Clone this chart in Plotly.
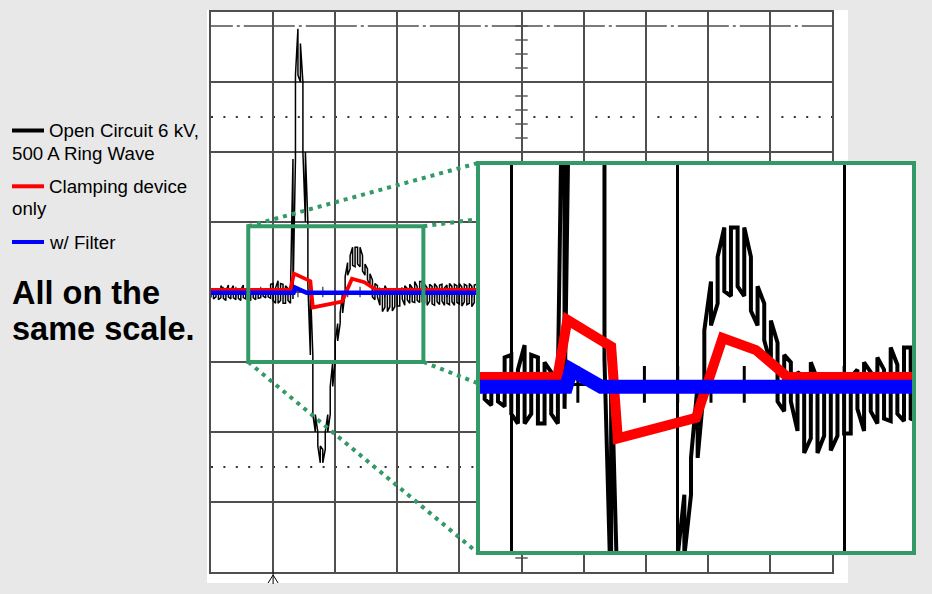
import plotly.graph_objects as go

PAGE_W, PAGE_H = 932, 594

# ---------------------------------------------------------------
# Scope traces, in screen divisions (10 x 8 graticule, centre = 0,0)
# ---------------------------------------------------------------

# Open-circuit 6 kV / 500 A ring wave: min / max of each display column
ring_t = [
    0.00, 0.04, 0.08, 0.12, 0.16, 0.20, 0.24, 0.28, 0.32, 0.36,
    0.40, 0.44, 0.48, 0.52, 0.56, 0.60, 0.64, 0.68, 0.72, 0.76,
    0.80, 0.84, 0.88, 0.92, 0.96, 1.00, 1.04, 1.08, 1.12, 1.16,
    1.20, 1.24, 1.28, 1.32, 1.36, 1.40, 1.44, 1.48, 1.52, 1.56,
    1.60, 1.64, 1.68, 1.72, 1.76, 1.80, 1.84, 1.88, 1.92, 1.96,
    2.00, 2.04, 2.08, 2.12, 2.16, 2.20, 2.24, 2.28, 2.32, 2.36,
    2.40, 2.44, 2.48, 2.52, 2.56, 2.60, 2.64, 2.68, 2.72, 2.76,
    2.80, 2.84, 2.88, 2.92, 2.96, 3.00, 3.04, 3.08, 3.12, 3.16,
    3.20, 3.24, 3.28, 3.32, 3.36, 3.40, 3.44, 3.48, 3.52, 3.56,
    3.60, 3.64, 3.68, 3.72, 3.76, 3.80, 3.84, 3.88, 3.92, 3.96,
    4.00, 4.04, 4.08, 4.12, 4.16, 4.20, 4.24, 4.28,
]
ring_lo = [
    -0.08, -0.10, -0.07, -0.11, -0.08, -0.09, -0.12, -0.07, -0.10, -0.08,
    -0.11, -0.09, -0.12, -0.08, -0.10, -0.09, -0.12, -0.08, -0.11, -0.09,
    -0.08, -0.06, -0.085, -0.07, -0.09, -0.12, -0.16, -0.16, -0.12, -0.16,
    -0.16, -0.12, -0.16, -0.10, 1.90, 3.10, 3.00, 2.00, 1.00, 0.10,
    -0.90, -1.75, -2.00, -2.20, -2.44, -2.44, -2.25, -2.00, -1.75, -1.35,
    -1.00, -0.70, -0.45, -0.30, 0.00, 0.24, 0.33, 0.38, 0.36, 0.40,
    0.36, 0.30, 0.24, 0.18, 0.08, -0.07, -0.11, -0.07, -0.19, -0.28,
    -0.22, -0.28, -0.21, -0.27, -0.21, -0.20, -0.20, -0.10, -0.19, -0.11,
    -0.16, -0.14, -0.15, -0.12, -0.15, -0.14, -0.15, -0.19, -0.13, -0.17,
    -0.19, -0.14, -0.18, -0.13, -0.19, -0.16, -0.18, -0.14, -0.19, -0.15,
    -0.17, -0.20, -0.14, -0.18, -0.16, -0.21, -0.15, -0.18,
]
ring_hi = [
    0.02, 0.03, 0.02, 0.04, 0.09, 0.03, 0.02, 0.10, 0.03, 0.09,
    0.02, 0.04, 0.03, 0.10, 0.02, 0.03, 0.02, 0.05, 0.03, 0.02,
    0.03, 0.02, 0.03, 0.02, 0.11, 0.12, 0.06, 0.16, 0.12, 0.11,
    0.09, 0.05, 0.03, 1.90, 3.10, 3.76, 3.55, 3.00, 2.00, 1.00,
    0.10, -0.90, -1.75, -2.00, -2.20, -2.25, -2.00, -1.75, -1.35, -1.00,
    -0.70, -0.45, -0.30, 0.00, 0.22, 0.42, 0.52, 0.64, 0.64, 0.64,
    0.64, 0.52, 0.40, 0.33, 0.26, 0.17, 0.12, 0.09, 0.05, 0.03,
    0.09, 0.02, 0.03, 0.02, 0.03, 0.02, 0.03, 0.06, 0.09, 0.05,
    0.11, 0.06, 0.15, 0.08, 0.15, 0.15, 0.11, 0.06, 0.11, 0.08,
    0.12, 0.07, 0.10, 0.11, 0.06, 0.10, 0.12, 0.08, 0.11, 0.09,
    0.12, 0.07, 0.11, 0.09, 0.12, 0.08, 0.10, 0.11,
]

# Clamping device only
clamp_t = [0.00, 1.277, 1.337, 1.60, 1.64, 2.11, 2.27, 2.47, 2.66, 4.30]
clamp_v = [0.03, 0.03, 0.263, 0.155, -0.22, -0.137, 0.189, 0.14, 0.03, 0.03]

# With filter
filt_t = [0.00, 1.33, 1.36, 1.54, 4.30]
filt_v = [-0.01, -0.01, 0.06, -0.01, -0.01]

legend_rows = [
    ("Open Circuit 6 kV,", "500 A Ring Wave", "#000000"),
    ("Clamping device", "only", "#ff0000"),
    ("w/ Filter", None, "#0000ff"),
]
note_lines = ["All on the", "same scale."]

# ---------------------------------------------------------------
# Styling / geometry
# ---------------------------------------------------------------
GRID = "#4f4f4f"
GREEN = "#339966"
FONT = "Liberation Sans, Arial, sans-serif"

MAIN_X = [0, 10]
MAIN_Y = [-4, 4]
MAIN_DOM_X = [211 / PAGE_W, 832 / PAGE_W]
MAIN_DOM_Y = [1 - 572 / PAGE_H, 1 - 12 / PAGE_H]

ZOOM_X = [0.80, 3.42]
ZOOM_Y = [-0.688, 0.903]
ZOOM_DOM_X = [478 / PAGE_W, 914 / PAGE_W]
ZOOM_DOM_Y = [1 - 553 / PAGE_H, 1 - 163 / PAGE_H]

# region of the main screen marked as magnified
MARK_X = [0.60, 3.42]
MARK_Y = [-1.00, 0.94]


def main_to_paper(x, y):
    px = MAIN_DOM_X[0] + (x - MAIN_X[0]) / (MAIN_X[1] - MAIN_X[0]) * (MAIN_DOM_X[1] - MAIN_DOM_X[0])
    py = MAIN_DOM_Y[0] + (y - MAIN_Y[0]) / (MAIN_Y[1] - MAIN_Y[0]) * (MAIN_DOM_Y[1] - MAIN_DOM_Y[0])
    return px, py


# peak-detect style path: each column drawn as a vertical stroke, snaking
ring_x, ring_y = [], []
for i, (t, lo, hi) in enumerate(zip(ring_t, ring_lo, ring_hi)):
    ring_x += [t, t]
    ring_y += [lo, hi] if i % 2 == 0 else [hi, lo]

# minor graticule ticks on the centre cross (5 per division)
tick_x, tick_y = [], []
for k in range(1, 50):
    t = k * 0.2
    tick_x += [t, t, None]
    tick_y += [-0.075, 0.075, None]
for k in range(-19, 20):
    v = k * 0.2
    tick_x += [4.9, 5.1, None]
    tick_y += [v, v, None]

fig = go.Figure()

# stroke widths for the full screen and for the magnified view
STROKES = {
    "main": dict(tick=(GRID, 1.4), ring=1.5, clamp=3.8, filt=4.5),
    "zoom": dict(tick=("#000000", 3), ring=4, clamp=10, filt=14),
}


def add_screen(xa, ya, style):
    s = STROKES[style]
    fig.add_trace(go.Scatter(x=tick_x, y=tick_y, mode="lines", xaxis=xa, yaxis=ya,
                             line=dict(color=s["tick"][0], width=s["tick"][1]), hoverinfo="skip"))
    fig.add_trace(go.Scatter(x=ring_x, y=ring_y, mode="lines", xaxis=xa, yaxis=ya,
                             name="Open Circuit 6 kV, 500 A Ring Wave",
                             line=dict(color="#000000", width=s["ring"])))
    fig.add_trace(go.Scatter(x=clamp_t, y=clamp_v, mode="lines", xaxis=xa, yaxis=ya,
                             name="Clamping device only",
                             line=dict(color="#ff0000", width=s["clamp"])))
    fig.add_trace(go.Scatter(x=filt_t, y=filt_v, mode="lines", xaxis=xa, yaxis=ya,
                             name="w/ Filter",
                             line=dict(color="#0000ff", width=s["filt"])))


add_screen("x", "y", "main")
add_screen("x2", "y2", "zoom")

axis_common = dict(showticklabels=False, ticks="", zeroline=False, fixedrange=True, showgrid=True)
fig.update_layout(
    width=PAGE_W, height=PAGE_H,
    margin=dict(l=0, r=0, t=0, b=0),
    paper_bgcolor="#e8e8e8", plot_bgcolor="#ffffff",
    showlegend=False,
    xaxis=dict(domain=MAIN_DOM_X, range=MAIN_X, dtick=1, tick0=0, gridcolor=GRID, gridwidth=1.6,
               showline=True, mirror=True, linecolor=GRID, linewidth=2, anchor="y", **axis_common),
    yaxis=dict(domain=MAIN_DOM_Y, range=MAIN_Y, dtick=1, tick0=0, gridcolor=GRID, gridwidth=1.6,
               showline=True, mirror=True, linecolor=GRID, linewidth=2, anchor="x", **axis_common),
    xaxis2=dict(domain=ZOOM_DOM_X, range=ZOOM_X, dtick=1, tick0=0, gridcolor="#000000", gridwidth=3,
                showline=False, anchor="y2", **axis_common),
    yaxis2=dict(domain=ZOOM_DOM_Y, range=ZOOM_Y, dtick=1, tick0=0, gridcolor="#000000", gridwidth=3,
                showline=False, anchor="x2", **axis_common),
)

shapes = []
# white card behind the scope screen
shapes.append(dict(type="rect", xref="paper", yref="paper", layer="below",
                   x0=207 / PAGE_W, x1=848 / PAGE_W, y0=1 - 583 / PAGE_H, y1=1 - 10 / PAGE_H,
                   line=dict(width=0), fillcolor="#ffffff"))
# dash-dot reference level and dotted 2.5-div levels
shapes.append(dict(type="line", xref="x", yref="y", layer="below", x0=-0.47, x1=10, y0=3.8, y1=3.8,
                   line=dict(color=GRID, width=1.5, dash="51px,4px,3px,4px")))
for lvl in (2.5, -2.5):
    shapes.append(dict(type="line", xref="x", yref="y", layer="below", x0=0, x1=10, y0=lvl, y1=lvl,
                       line=dict(color="#333333", width=2, dash="2px,10.4px")))
# magnified region marker
shapes.append(dict(type="rect", xref="x", yref="y", layer="above",
                   x0=MARK_X[0], x1=MARK_X[1], y0=MARK_Y[0], y1=MARK_Y[1],
                   line=dict(color=GREEN, width=4)))
# connectors from marker corners to the magnified view corners
zx0, zx1 = ZOOM_DOM_X
zy0, zy1 = ZOOM_DOM_Y
pairs = [
    ((MARK_X[0], MARK_Y[1]), (zx0, zy1)),
    ((MARK_X[1], MARK_Y[1]), (zx1, zy1)),
    ((MARK_X[0], MARK_Y[0]), (zx0, zy0)),
    ((MARK_X[1], MARK_Y[0]), (zx1, zy0)),
]
for (mx, my), (ex, ey) in pairs:
    sx, sy = main_to_paper(mx, my)
    if ex > zx0:  # stop where the magnified view starts
        f = (zx0 - sx) / (ex - sx)
        ex, ey = zx0, sy + f * (ey - sy)
    shapes.append(dict(type="line", xref="paper", yref="paper", layer="above",
                       x0=sx, y0=sy, x1=ex, y1=ey,
                       line=dict(color=GREEN, width=4, dash="4px,5px")))
# magnified view frame
shapes.append(dict(type="rect", xref="paper", yref="paper", layer="above",
                   x0=zx0, x1=zx1, y0=zy0, y1=zy1, line=dict(color=GREEN, width=4)))
# trigger marker under the screen
tx, _ = main_to_paper(1, 0)
ax_px = tx * PAGE_W


def pp(px, py):
    return f"{px / PAGE_W:.5f},{1 - py / PAGE_H:.5f}"


shapes.append(dict(type="path", xref="paper", yref="paper", layer="above",
                   path=f"M{pp(ax_px - 5, 583)} L{pp(ax_px, 575)} L{pp(ax_px + 5, 583)} "
                        f"M{pp(ax_px, 572)} L{pp(ax_px, 584)}",
                   line=dict(color="#000000", width=1)))

# legend keys
key_rows_y = [130.5, 186.3, 242]
for (first, second, color), ky in zip(legend_rows, key_rows_y):
    shapes.append(dict(type="line", xref="paper", yref="paper", layer="above",
                       x0=12 / PAGE_W, x1=44 / PAGE_W, y0=1 - ky / PAGE_H, y1=1 - ky / PAGE_H,
                       line=dict(color=color, width=4)))

annotations = []
text_font = dict(family=FONT, size=18.7, color="#000000")
line_pitch = 22.5
for (first, second, color), ky in zip(legend_rows, key_rows_y):
    annotations.append(dict(text=first, xref="paper", yref="paper", x=47 / PAGE_W, y=1 - ky / PAGE_H,
                            xanchor="left", yanchor="middle", showarrow=False, font=text_font))
    if second:
        annotations.append(dict(text=second, xref="paper", yref="paper", x=10 / PAGE_W,
                                y=1 - (ky + line_pitch) / PAGE_H,
                                xanchor="left", yanchor="middle", showarrow=False, font=text_font))
for j, line in enumerate(note_lines):
    annotations.append(dict(text=f"<b>{line}</b>", xref="paper", yref="paper", x=10 / PAGE_W,
                            y=1 - (293 + 36 * j) / PAGE_H, xanchor="left", yanchor="middle",
                            showarrow=False, font=dict(family=FONT, size=32.5, color="#000000")))

fig.update_layout(shapes=shapes, annotations=annotations)
fig.write_html("out.html")
